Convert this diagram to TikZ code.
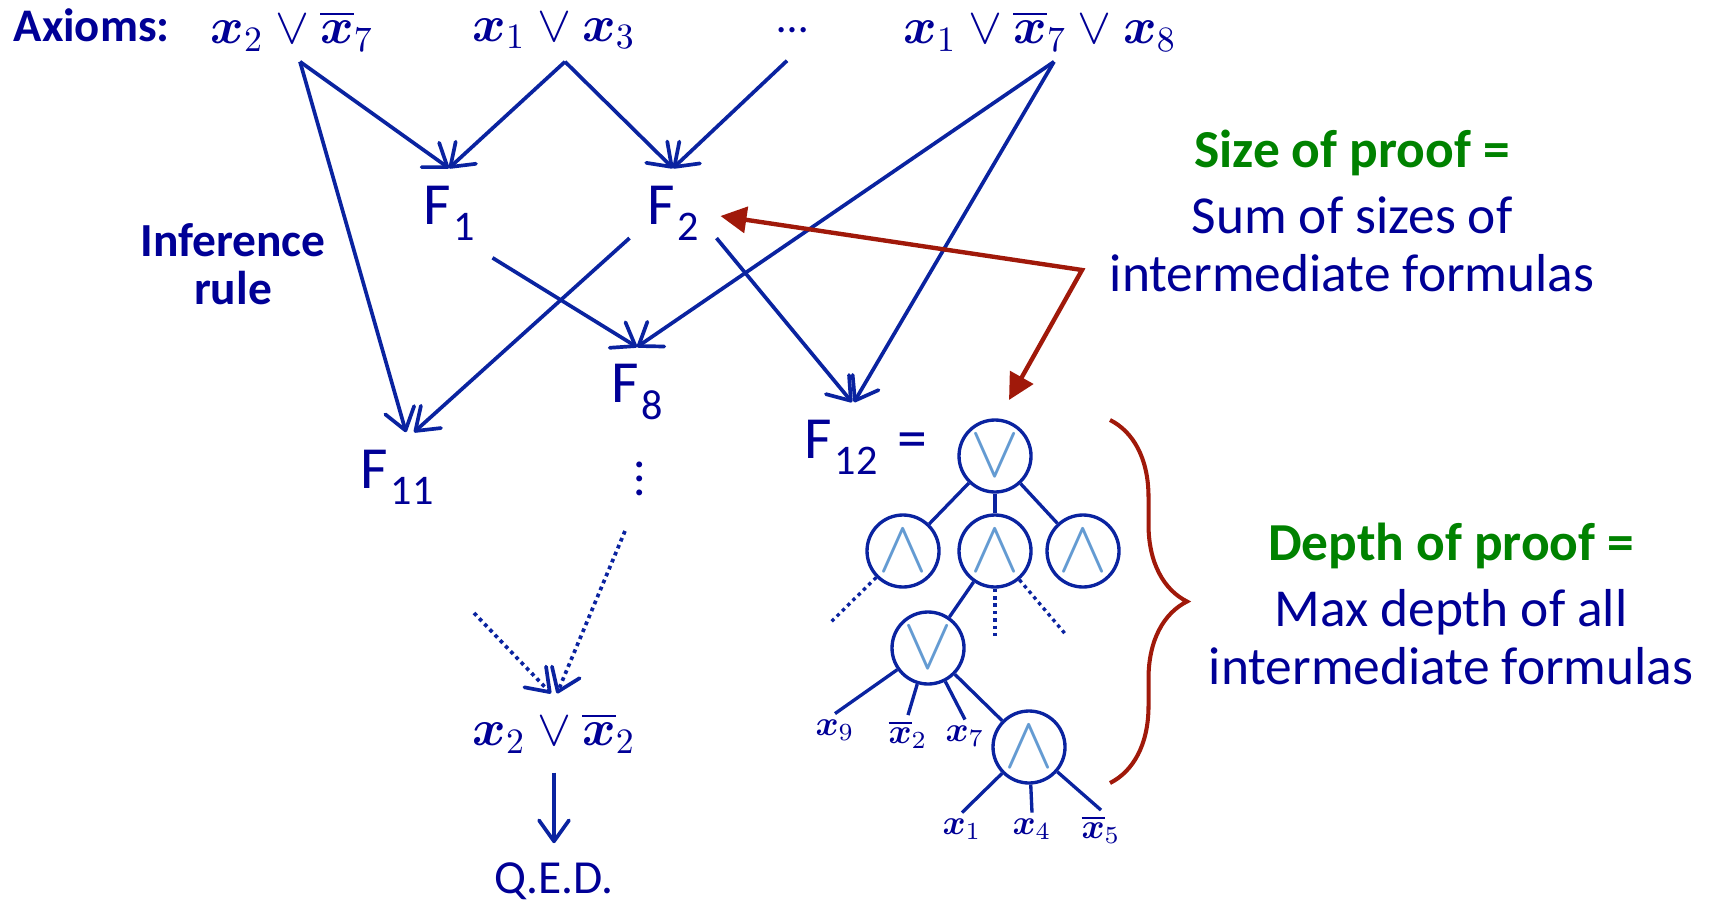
\RequirePackage{fix-cm}
\documentclass[tikz,border=0pt]{standalone}
\usepackage{amsmath,amssymb}
\usepackage[no-math]{fontspec}
\setmainfont{Carlito}
\usepackage{xcolor}
\usetikzlibrary{arrows.meta,positioning,decorations.pathreplacing}

\definecolor{pfnavy}{RGB}{0,0,150}
\definecolor{pfblue}{RGB}{10,35,160}
\definecolor{pflight}{RGB}{100,155,210}
\definecolor{pfgreen}{RGB}{0,130,0}
\definecolor{pfdarkred}{RGB}{160,25,10}

\newcommand{\fsub}[2]{#1\kern0.05em\raisebox{-0.27em}{\fontsize{12}{12}\selectfont #2}}

\tikzset{
  pfaxiom/.style={text=pfnavy, font=\fontsize{14.5}{14.5}\selectfont, minimum height=0.6cm, inner sep=1pt},
  pfgoal/.style={text=pfnavy, font=\fontsize{14.5}{14.5}\selectfont, inner sep=2pt, outer sep=3.5pt},
  pfform/.style={text=pfnavy, font=\fontsize{17}{17}\selectfont, inner sep=2pt, outer sep=3pt},
  pfnote/.style={text=pfnavy, font=\fontsize{15.2}{16.5}\selectfont, align=center},
  pfgate/.style={circle, draw=pfblue, line width=0.95pt, minimum size=0.72cm, inner sep=0pt, text=pflight, font=\fontsize{21}{21}\selectfont},
  pfleaf/.style={text=pfnavy, font=\fontsize{10}{10}\selectfont, inner sep=1.5pt},
  pfline/.style={-{Straight Barb[length=2.1mm,width=3mm,round]}, draw=pfblue, line width=1.05pt},
  pfdot/.style={pfline, dash pattern=on 1.05pt off 1.1pt},
  pfedge/.style={draw=pfblue, line width=0.95pt},
  pfback/.style={{Triangle[length=2.6mm,width=2.6mm]}-{Triangle[length=2.6mm,width=2.6mm]}, draw=pfdarkred, line width=1.25pt},
  pfbrace/.style={draw=pfdarkred, line width=1.15pt, decorate, decoration={brace, amplitude=0.77cm}}
}

\begin{document}
\begin{tikzpicture}[x=1cm,y=1cm]
  \useasboundingbox (0,0) rectangle (17.1,9);

  \node[anchor=west, text=pfnavy, font=\fontsize{13.3}{13.3}\selectfont\bfseries, inner sep=0.5mm] (axlabel) at (0.08,8.75) {Axioms:};
  \node[pfaxiom] (ax1) at (2.92,8.69) {$\boldsymbol{x}_2\vee\overline{\boldsymbol{x}}_7$};
  \node[pfaxiom] (ax2) at (5.54,8.69) {$\boldsymbol{x}_1\vee\boldsymbol{x}_3$};
  \node[pfaxiom] (ax3) at (7.93,8.70) {\fontsize{12.5}{12.5}\selectfont\ldots};
  \node[pfaxiom] (ax4) at (10.40,8.69) {$\boldsymbol{x}_1\vee\overline{\boldsymbol{x}}_7\vee\boldsymbol{x}_8$};

  \node[text=pfnavy, font=\fontsize{13.5}{13.5}\selectfont\bfseries, align=center] (rule) at (2.33,6.36) {Inference\\rule};

  \node[pfform] (F1) at (4.49,6.87) {\fsub{F}{1}};
  \node[pfform] (F2) at (6.73,6.87) {\fsub{F}{2}};
  \node[pfform] (F8) at (6.37,5.08) {\fsub{F}{8}};
  \node[pfform] (F11) at (3.97,4.23) {\fsub{F}{11}};
  \node[pfform] (F12) at (8.41,4.53) {\fsub{F}{12}};
  \node[pfform, base right=-1.5mm of F12] (eq) {=};
  \node[text=pfnavy, font=\fontsize{14}{14}\selectfont] (vd) at (6.40,4.32) {$\vdots$};

  \draw[pfline] ([xshift=0.8mm]ax1.south) -- (F1.north);
  \draw[pfline] ([xshift=1.1mm]ax2.south) -- (F1.north);
  \draw[pfline] ([xshift=1.1mm]ax2.south) -- (F2.north);
  \draw[pfline] ([xshift=-0.6mm]ax3.south) -- (F2.north);
  \draw[pfline] ([xshift=0.8mm]ax1.south) -- ([xshift=0.9mm]F11.north);
  \draw[pfline] ([xshift=1.4mm]ax4.south) -- (F8.north);
  \draw[pfline] ([xshift=1.4mm]ax4.south) -- ([xshift=1.3mm]F12.north);
  \draw[pfline] (F1.south east) -- (F8.north);
  \draw[pfline] (F2.210) -- ([xshift=1.7mm]F11.north);
  \draw[pfline] (F2.330) -- ([xshift=1.1mm]F12.north);

  \node[pfgoal] (goal) at (5.54,1.67) {$\boldsymbol{x}_2\vee\overline{\boldsymbol{x}}_2$};
  \node[pfgoal, font=\fontsize{13.5}{13.5}\selectfont] (qed) at (5.54,0.19) {Q.E.D.};
  \coordinate (d1) at (6.25,3.69);
  \coordinate (d2) at (4.74,2.87);
  \draw[pfdot] (d1) -- ([xshift=0.3mm]goal.north);
  \draw[pfdot] (d2) -- ([xshift=-0.3mm]goal.north);
  \draw[pfline] (goal) -- (qed);

  \node[pfgate] (g0) at (9.95,4.44) {$\vee$};
  \node[pfgate] (g1) at (9.03,3.49) {$\wedge$};
  \node[pfgate] (g2) at (9.95,3.49) {$\wedge$};
  \node[pfgate] (g3) at (10.83,3.49) {$\wedge$};
  \node[pfgate] (g4) at (9.28,2.52) {$\vee$};
  \node[pfgate] (g5) at (10.29,1.53) {$\wedge$};
  \node[pfleaf] (l9) at (8.35,1.70) {$\boldsymbol{x}_9$};
  \node[pfleaf] (l2) at (9.08,1.65) {$\overline{\boldsymbol{x}}_2$};
  \node[pfleaf] (l7) at (9.65,1.64) {$\boldsymbol{x}_7$};
  \node[pfleaf] (l1) at (9.62,0.71) {$\boldsymbol{x}_1$};
  \node[pfleaf] (l4) at (10.32,0.71) {$\boldsymbol{x}_4$};
  \node[pfleaf] (l5) at (11.01,0.70) {$\overline{\boldsymbol{x}}_5$};

  \foreach \a/\b in {g0/g1,g0/g2,g0/g3,g2/g4,g4/g5}
    \draw[pfedge] (\a) -- (\b);
  \foreach \a/\b in {g4/l9,g4/l2,g4/l7,g5/l1,g5/l4,g5/l5}
    \draw[pfedge] (\a) -- (\b.north);

  \coordinate (t1) at (8.31,2.78);
  \coordinate (t2) at (9.95,2.64);
  \coordinate (t3) at (10.67,2.64);
  \draw[pfedge, dash pattern=on 1pt off 1.1pt] (g1) -- (t1);
  \draw[pfedge, dash pattern=on 1pt off 1.1pt] (g2) -- (t2);
  \draw[pfedge, dash pattern=on 1pt off 1.1pt] (g2) -- (t3);

  \coordinate (rbend) at (10.82,6.30);
  \coordinate (rtip) at (10.09,5.00);
  \draw[pfback] ([shift={(0.4mm,-0.3mm)}]F2.east) -- (rbend) -- (rtip);

  \draw[pfbrace] (11.10,4.80) -- (11.10,1.17);

  \node[pfnote] (sizenote) at (13.52,6.89) {\textcolor{pfgreen}{\bfseries Size of proof =}\\[2.3pt] Sum of sizes of\\ intermediate formulas};
  \node[pfnote] (depthnote) at (14.51,2.96) {\textcolor{pfgreen}{\bfseries Depth of proof =}\\[2.3pt] Max depth of all\\ intermediate formulas};
\end{tikzpicture}
\end{document}
